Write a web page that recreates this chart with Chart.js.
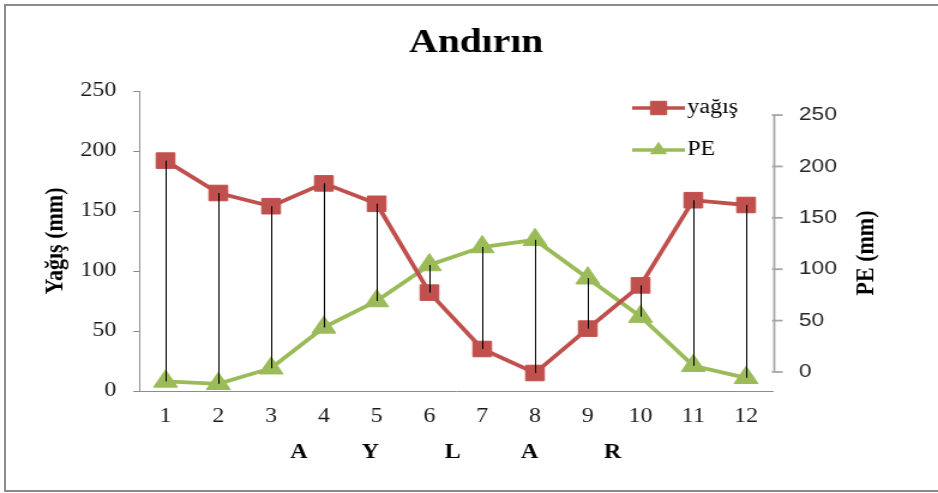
<!DOCTYPE html>
<html>
<head>
<meta charset="utf-8">
<title>Andırın</title>
<script src="https://cdn.jsdelivr.net/npm/chart.js@4.4.1/dist/chart.umd.min.js"></script>
<style>
  html, body { margin: 0; padding: 0; background: #fff; overflow: hidden; }
  #frame {
    position: absolute; left: 4px; top: 4px; width: 960px; height: 488px;
    box-sizing: border-box; border: 2px solid #8c8c8c; border-right: none;
  }
  /* the original picture is stretched sideways, so the canvas is too */
  #stretch {
    position: absolute; left: 0; top: 0; width: 782px; height: 493px;
    transform-origin: 0 0; transform: scaleX(1.1995);
  }
</style>
</head>
<body>
<div id="frame"></div>
<div id="stretch"><canvas id="chart" width="782" height="493"></canvas></div>
<script>
// Andırın: monthly precipitation (yağış) vs potential evapotranspiration (PE)

const months = ['1', '2', '3', '4', '5', '6', '7', '8', '9', '10', '11', '12'];
const yagis = [192, 165, 154, 173, 156, 82, 35, 15, 52, 88, 159, 155];
const pe = [8, 6, 19, 53, 75, 105, 120, 126, 94, 62, 21, 11];

const leftTicks = [0, 50, 100, 150, 200, 250];
const rightTicks = [0, 50, 100, 150, 200, 250];
const leftRange = [0, 250];
const rightRange = [-18.5, 273.4];   // right axis sits a bit higher than the left one

const serif = '"Liberation Serif", "Times New Roman", serif';
const sans = '"Liberation Sans", Arial, sans-serif';
const red = '#C0504D';
const green = '#9BBB59';

// high-low lines, the small right axis, its title and the legend
const extras = {
    id: 'extras',
    afterDatasetsDraw(chart) {
        const { ctx, scales: { x, y } } = chart;
        ctx.save();
        ctx.strokeStyle = '#000';
        ctx.lineWidth = 1;
        months.forEach((m, i) => {
            const px = Math.round(x.getPixelForValue(i)) + 0.5;
            ctx.beginPath();
            ctx.moveTo(px, y.getPixelForValue(Math.max(yagis[i], pe[i])));
            ctx.lineTo(px, y.getPixelForValue(Math.min(yagis[i], pe[i])));
            ctx.stroke();
        });
        ctx.restore();
    },
    afterDraw(chart) {
        const { ctx, chartArea, scales: { y1 } } = chart;
        const ax = chartArea.right + 1.5;
        ctx.save();

        // right axis line with its tick marks
        ctx.strokeStyle = '#a6a6a6';
        ctx.lineWidth = 1.8;
        ctx.beginPath();
        ctx.moveTo(ax, y1.getPixelForValue(rightTicks[0]));
        ctx.lineTo(ax, y1.getPixelForValue(rightTicks[rightTicks.length - 1]));
        ctx.stroke();
        rightTicks.forEach(v => {
            const py = y1.getPixelForValue(v);
            ctx.beginPath();
            ctx.moveTo(ax - 2, py);
            ctx.lineTo(ax + 7, py);
            ctx.stroke();
        });

        // right axis title, reads bottom to top like the left one
        ctx.fillStyle = '#000';
        ctx.font = 'bold 22px ' + serif;
        ctx.textAlign = 'center';
        ctx.textBaseline = 'middle';
        ctx.translate(722, 253);
        ctx.rotate(-Math.PI / 2);
        ctx.fillText('PE (mm)', 0, 0);
        ctx.setTransform(1, 0, 0, 1, 0, 0);

        // legend: line + marker + label
        const rows = [
            { ds: chart.data.datasets[0], y: 108, r: 9.5 },
            { ds: chart.data.datasets[1], y: 150, r: 7.5 }
        ];
        rows.forEach(row => {
            ctx.strokeStyle = row.ds.borderColor;
            ctx.fillStyle = row.ds.backgroundColor;
            ctx.lineWidth = 3.5;
            ctx.beginPath();
            ctx.moveTo(527, row.y);
            ctx.lineTo(571, row.y);
            ctx.stroke();
            ctx.lineWidth = 1;
            Chart.helpers.drawPoint(ctx, {
                pointStyle: row.ds.pointStyle, radius: row.r, rotation: 0, borderWidth: 1
            }, 549, row.y);
            ctx.fillStyle = '#000';
            ctx.font = '20px ' + serif;
            ctx.textAlign = 'left';
            ctx.textBaseline = 'middle';
            ctx.fillText(row.ds.label, 573, row.y);
        });
        ctx.restore();
    }
};

new Chart(document.getElementById('chart'), {
    type: 'line',
    data: {
        labels: months,
        datasets: [{
            label: 'yağış',
            data: yagis,
            yAxisID: 'y',
            borderColor: red,
            backgroundColor: red,
            borderWidth: 3.8,
            pointStyle: 'rect',
            pointRadius: 11,
            pointBorderWidth: 1,
            tension: 0
        }, {
            label: 'PE',
            data: pe,
            yAxisID: 'y',
            borderColor: green,
            backgroundColor: green,
            borderWidth: 3.8,
            pointStyle: 'triangle',
            pointRadius: 11.5,
            pointBorderWidth: 1,
            tension: 0
        }]
    },
    options: {
        responsive: false,
        animation: false,
        devicePixelRatio: 1,
        layout: { padding: { left: 12, right: 0, top: 0, bottom: 0 } },
        plugins: {
            legend: { display: false },
            tooltip: { enabled: false },
            title: {
                display: true,
                text: 'Andırın',
                color: '#000',
                font: { family: serif, size: 33, weight: 'bold' },
                padding: { top: 23.7, bottom: 27.7 }
            }
        },
        scales: {
            x: {
                offset: true,
                grid: { display: false, drawTicks: false },
                border: { display: true, color: '#8c8c8c', width: 1 },
                ticks: { color: '#1a1a1a', font: { family: serif, size: 20 }, padding: 14 },
                title: {
                    display: true,
                    text: 'A         Y           L          A           R',
                    color: '#000',
                    font: { family: serif, size: 20, weight: 'bold' },
                    padding: { top: 0, bottom: 28 }
                },
                afterFit: s => { s.height = 102; }
            },
            y: {
                position: 'left',
                min: leftRange[0],
                max: leftRange[1],
                afterBuildTicks: s => { s.ticks = leftTicks.map(v => ({ value: v })); },
                grid: { display: true, drawOnChartArea: false, drawTicks: true, tickLength: 5, color: '#8c8c8c' },
                border: { display: true, color: '#8c8c8c', width: 1 },
                ticks: { color: '#1a1a1a', font: { family: serif, size: 20 }, padding: 14 },
                title: {
                    display: true,
                    text: 'Yağış (mm)',
                    color: '#000',
                    font: { family: serif, size: 22, weight: 'bold' },
                    padding: { top: 21.5, bottom: 0 }
                },
                afterFit: s => { s.width = 104; }
            },
            y1: {
                position: 'right',
                min: rightRange[0],
                max: rightRange[1],
                afterBuildTicks: s => { s.ticks = rightTicks.map(v => ({ value: v })); },
                grid: { display: false, drawTicks: false },
                border: { display: false },
                ticks: { color: '#262626', font: { family: sans, size: 19 }, padding: 22 },
                afterFit: s => { s.width = 138; }
            }
        }
    },
    plugins: [extras]
});
</script>
</body>
</html>
